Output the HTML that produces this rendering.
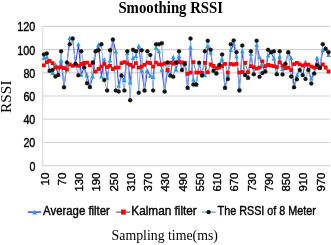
<!DOCTYPE html>
<html><head><meta charset="utf-8"><style>
html,body{margin:0;padding:0;background:#fff;width:331px;height:245px;overflow:hidden}
svg{display:block;will-change:transform}
</style></head><body>
<svg width="331" height="245" viewBox="0 0 331 245">
<rect width="331" height="245" fill="#fff"/>
<line x1="42.5" x2="329.8" y1="142.48" y2="142.48" stroke="#d2d2d2" stroke-width="1.1"/>
<line x1="42.5" x2="329.8" y1="119.27" y2="119.27" stroke="#d2d2d2" stroke-width="1.1"/>
<line x1="42.5" x2="329.8" y1="96.05" y2="96.05" stroke="#d2d2d2" stroke-width="1.1"/>
<line x1="42.5" x2="329.8" y1="72.84" y2="72.84" stroke="#d2d2d2" stroke-width="1.1"/>
<line x1="42.5" x2="329.8" y1="49.62" y2="49.62" stroke="#d2d2d2" stroke-width="1.1"/>
<line x1="42.5" x2="329.8" y1="26.40" y2="26.40" stroke="#d2d2d2" stroke-width="1.1"/>
<line x1="42.6" x2="42.6" y1="25.90" y2="165.70" stroke="#e2e2e2" stroke-width="1.6"/>
<line x1="42" x2="329.8" y1="165.70" y2="165.70" stroke="#cdcdcd" stroke-width="1.1"/>
<text x="35.3" y="170.70" text-anchor="end" font-family="Liberation Sans, sans-serif" font-size="12" textLength="5.9" lengthAdjust="spacingAndGlyphs" fill="#000" stroke="#000" stroke-width="0.38">0</text>
<text x="35.3" y="147.48" text-anchor="end" font-family="Liberation Sans, sans-serif" font-size="12" textLength="11.9" lengthAdjust="spacingAndGlyphs" fill="#000" stroke="#000" stroke-width="0.38">20</text>
<text x="35.3" y="124.27" text-anchor="end" font-family="Liberation Sans, sans-serif" font-size="12" textLength="11.9" lengthAdjust="spacingAndGlyphs" fill="#000" stroke="#000" stroke-width="0.38">40</text>
<text x="35.3" y="101.05" text-anchor="end" font-family="Liberation Sans, sans-serif" font-size="12" textLength="11.9" lengthAdjust="spacingAndGlyphs" fill="#000" stroke="#000" stroke-width="0.38">60</text>
<text x="35.3" y="77.84" text-anchor="end" font-family="Liberation Sans, sans-serif" font-size="12" textLength="11.9" lengthAdjust="spacingAndGlyphs" fill="#000" stroke="#000" stroke-width="0.38">80</text>
<text x="35.3" y="54.62" text-anchor="end" font-family="Liberation Sans, sans-serif" font-size="12" textLength="18.0" lengthAdjust="spacingAndGlyphs" fill="#000" stroke="#000" stroke-width="0.38">100</text>
<text x="35.3" y="31.40" text-anchor="end" font-family="Liberation Sans, sans-serif" font-size="12" textLength="18.0" lengthAdjust="spacingAndGlyphs" fill="#000" stroke="#000" stroke-width="0.38">120</text>
<text transform="translate(48.70,172.6) rotate(-90)" x="0" y="0" text-anchor="end" font-family="Liberation Sans, sans-serif" font-size="11.5" textLength="12.8" lengthAdjust="spacingAndGlyphs" fill="#000" stroke="#000" stroke-width="0.38">10</text>
<text transform="translate(65.95,172.6) rotate(-90)" x="0" y="0" text-anchor="end" font-family="Liberation Sans, sans-serif" font-size="11.5" textLength="12.8" lengthAdjust="spacingAndGlyphs" fill="#000" stroke="#000" stroke-width="0.38">70</text>
<text transform="translate(83.20,172.6) rotate(-90)" x="0" y="0" text-anchor="end" font-family="Liberation Sans, sans-serif" font-size="11.5" textLength="19.0" lengthAdjust="spacingAndGlyphs" fill="#000" stroke="#000" stroke-width="0.38">130</text>
<text transform="translate(100.45,172.6) rotate(-90)" x="0" y="0" text-anchor="end" font-family="Liberation Sans, sans-serif" font-size="11.5" textLength="19.0" lengthAdjust="spacingAndGlyphs" fill="#000" stroke="#000" stroke-width="0.38">190</text>
<text transform="translate(117.70,172.6) rotate(-90)" x="0" y="0" text-anchor="end" font-family="Liberation Sans, sans-serif" font-size="11.5" textLength="19.0" lengthAdjust="spacingAndGlyphs" fill="#000" stroke="#000" stroke-width="0.38">250</text>
<text transform="translate(134.95,172.6) rotate(-90)" x="0" y="0" text-anchor="end" font-family="Liberation Sans, sans-serif" font-size="11.5" textLength="19.0" lengthAdjust="spacingAndGlyphs" fill="#000" stroke="#000" stroke-width="0.38">310</text>
<text transform="translate(152.20,172.6) rotate(-90)" x="0" y="0" text-anchor="end" font-family="Liberation Sans, sans-serif" font-size="11.5" textLength="19.0" lengthAdjust="spacingAndGlyphs" fill="#000" stroke="#000" stroke-width="0.38">370</text>
<text transform="translate(169.45,172.6) rotate(-90)" x="0" y="0" text-anchor="end" font-family="Liberation Sans, sans-serif" font-size="11.5" textLength="19.0" lengthAdjust="spacingAndGlyphs" fill="#000" stroke="#000" stroke-width="0.38">430</text>
<text transform="translate(186.70,172.6) rotate(-90)" x="0" y="0" text-anchor="end" font-family="Liberation Sans, sans-serif" font-size="11.5" textLength="19.0" lengthAdjust="spacingAndGlyphs" fill="#000" stroke="#000" stroke-width="0.38">490</text>
<text transform="translate(203.95,172.6) rotate(-90)" x="0" y="0" text-anchor="end" font-family="Liberation Sans, sans-serif" font-size="11.5" textLength="19.0" lengthAdjust="spacingAndGlyphs" fill="#000" stroke="#000" stroke-width="0.38">550</text>
<text transform="translate(221.20,172.6) rotate(-90)" x="0" y="0" text-anchor="end" font-family="Liberation Sans, sans-serif" font-size="11.5" textLength="19.0" lengthAdjust="spacingAndGlyphs" fill="#000" stroke="#000" stroke-width="0.38">610</text>
<text transform="translate(238.45,172.6) rotate(-90)" x="0" y="0" text-anchor="end" font-family="Liberation Sans, sans-serif" font-size="11.5" textLength="19.0" lengthAdjust="spacingAndGlyphs" fill="#000" stroke="#000" stroke-width="0.38">670</text>
<text transform="translate(255.70,172.6) rotate(-90)" x="0" y="0" text-anchor="end" font-family="Liberation Sans, sans-serif" font-size="11.5" textLength="19.0" lengthAdjust="spacingAndGlyphs" fill="#000" stroke="#000" stroke-width="0.38">730</text>
<text transform="translate(272.95,172.6) rotate(-90)" x="0" y="0" text-anchor="end" font-family="Liberation Sans, sans-serif" font-size="11.5" textLength="19.0" lengthAdjust="spacingAndGlyphs" fill="#000" stroke="#000" stroke-width="0.38">790</text>
<text transform="translate(290.20,172.6) rotate(-90)" x="0" y="0" text-anchor="end" font-family="Liberation Sans, sans-serif" font-size="11.5" textLength="19.0" lengthAdjust="spacingAndGlyphs" fill="#000" stroke="#000" stroke-width="0.38">850</text>
<text transform="translate(307.45,172.6) rotate(-90)" x="0" y="0" text-anchor="end" font-family="Liberation Sans, sans-serif" font-size="11.5" textLength="19.0" lengthAdjust="spacingAndGlyphs" fill="#000" stroke="#000" stroke-width="0.38">910</text>
<text transform="translate(324.70,172.6) rotate(-90)" x="0" y="0" text-anchor="end" font-family="Liberation Sans, sans-serif" font-size="11.5" textLength="19.0" lengthAdjust="spacingAndGlyphs" fill="#000" stroke="#000" stroke-width="0.38">970</text>
<polyline points="43.90,58.30 46.77,57.30 49.65,70.76 52.52,73.10 55.40,64.50 58.27,75.06 61.15,60.90 64.03,87.15 66.90,65.00 69.78,38.10 72.65,38.55 75.53,63.78 78.40,44.50 81.28,75.00 84.15,67.27 87.03,75.50 89.90,87.03 92.78,76.70 95.65,51.34 98.53,44.90 101.40,76.70 104.28,59.60 107.15,78.00 110.03,60.70 112.90,39.60 115.78,51.70 118.65,85.90 121.53,75.41 124.40,80.40 127.28,53.50 130.15,82.80 133.03,58.30 135.90,56.30 138.78,46.20 141.65,70.80 144.53,90.52 147.40,70.80 150.28,76.00 153.15,77.30 156.03,47.60 158.90,51.50 161.78,70.00 164.65,91.56 167.53,69.90 170.40,75.41 173.28,57.20 176.15,69.90 179.03,56.50 181.90,69.94 184.78,64.01 187.65,87.84 190.53,47.60 193.40,79.80 196.28,84.59 199.15,62.73 202.03,75.41 204.90,75.50 207.78,46.50 210.65,52.60 213.53,70.76 216.40,73.43 219.28,64.94 222.15,59.60 225.03,87.84 227.90,74.90 230.78,50.10 233.65,44.30 236.53,56.80 239.40,88.10 242.28,51.50 245.15,75.06 248.03,77.85 250.90,54.00 253.78,74.24 256.65,45.20 259.52,57.30 262.40,66.20 265.27,71.45 268.15,55.80 271.02,52.16 273.90,58.70 276.77,74.24 279.65,56.60 282.52,69.20 285.40,63.78 288.27,52.16 291.15,58.40 294.02,87.15 296.90,75.50 299.77,69.94 302.65,75.06 305.52,62.00 308.40,69.94 311.27,78.80 314.15,73.43 317.02,58.00 319.90,67.62 322.77,50.50 325.65,48.67 328.52,55.20" fill="none" stroke="#4343ee" stroke-width="1.1" stroke-linejoin="round"/>
<polyline points="43.90,65.30 46.77,62.20 49.65,60.80 52.52,63.10 55.40,67.60 58.27,67.50 61.15,67.40 64.03,68.10 66.90,69.50 69.78,64.50 72.65,65.80 75.53,64.90 78.40,65.80 81.28,64.00 84.15,63.00 87.03,62.60 89.90,65.30 92.78,62.60 95.65,71.70 98.53,69.00 101.40,66.70 104.28,64.00 107.15,67.10 110.03,65.80 112.90,69.00 115.78,67.60 118.65,67.60 121.53,63.10 124.40,62.20 127.28,63.30 130.15,64.90 133.03,66.70 135.90,63.10 138.78,67.60 141.65,66.70 144.53,64.90 147.40,62.60 150.28,63.10 153.15,66.70 156.03,62.60 158.90,64.40 161.78,64.50 164.65,63.50 167.53,70.00 170.40,62.60 173.28,63.50 176.15,63.10 179.03,62.20 181.90,62.50 184.78,62.80 187.65,73.90 190.53,72.60 193.40,62.20 196.28,72.60 199.15,72.60 202.03,73.00 204.90,62.80 207.78,72.40 210.65,64.50 213.53,66.00 216.40,68.20 219.28,67.70 222.15,66.00 225.03,63.80 227.90,72.60 230.78,63.80 233.65,64.70 236.53,63.80 239.40,72.60 242.28,72.10 245.15,62.80 248.03,72.10 250.90,66.20 253.78,67.20 256.65,68.70 259.52,67.70 262.40,61.30 265.27,66.20 268.15,65.00 271.02,65.70 273.90,66.20 276.77,67.20 279.65,62.30 282.52,65.70 285.40,68.20 288.27,67.70 291.15,70.10 294.02,64.20 296.90,62.80 299.77,64.30 302.65,65.70 305.52,64.70 308.40,64.70 311.27,66.70 314.15,67.70 317.02,67.00 319.90,68.20 322.77,64.50 325.65,67.50 328.52,71.50" fill="none" stroke="#808080" stroke-width="1"/>
<polyline points="43.90,54.48 46.77,53.43 49.65,70.76 52.52,69.94 55.40,76.45 58.27,75.06 61.15,51.34 64.03,87.15 66.90,62.39 69.78,44.13 72.65,38.55 75.53,63.78 78.40,75.29 81.28,51.34 84.15,67.27 87.03,83.19 89.90,87.03 92.78,62.50 95.65,51.34 98.53,50.30 101.40,44.37 104.28,80.06 107.15,90.52 110.03,50.30 112.90,39.60 115.78,90.52 118.65,91.56 121.53,75.41 124.40,90.52 127.28,51.34 130.15,100.17 133.03,49.83 135.90,51.34 138.78,92.84 141.65,50.30 144.53,90.52 147.40,51.34 150.28,54.95 153.15,90.52 156.03,44.37 158.90,44.37 161.78,43.20 164.65,91.56 167.53,62.50 170.40,75.41 173.28,76.80 176.15,62.50 179.03,51.34 181.90,69.94 184.78,64.01 187.65,87.84 190.53,38.55 193.40,84.59 196.28,84.59 199.15,62.73 202.03,75.41 204.90,51.34 207.78,40.76 210.65,49.83 213.53,70.76 216.40,73.43 219.28,64.94 222.15,54.48 225.03,87.84 227.90,78.89 230.78,44.13 233.65,40.53 236.53,52.16 239.40,90.52 242.28,45.53 245.15,75.06 248.03,77.85 250.90,51.34 253.78,74.24 256.65,40.76 259.52,76.80 262.40,72.97 265.27,71.45 268.15,49.83 271.02,52.16 273.90,51.34 276.77,74.24 279.65,51.34 282.52,74.48 285.40,63.78 288.27,52.16 291.15,76.45 294.02,87.15 296.90,79.24 299.77,69.94 302.65,75.06 305.52,78.89 308.40,69.94 311.27,83.54 314.15,73.43 317.02,64.94 319.90,67.62 322.77,44.13 325.65,48.67 328.52,52.16" fill="none" stroke="#86aee6" stroke-width="1" stroke-linejoin="round"/>
<path d="M43.90 55.70L46.20 60.10L41.60 60.10ZM46.77 54.70L49.07 59.10L44.48 59.10ZM49.65 68.16L51.95 72.56L47.35 72.56ZM52.52 70.50L54.82 74.90L50.23 74.90ZM55.40 61.90L57.70 66.30L53.10 66.30ZM58.27 72.46L60.57 76.86L55.98 76.86ZM61.15 58.30L63.45 62.70L58.85 62.70ZM64.03 84.55L66.33 88.95L61.73 88.95ZM66.90 62.40L69.20 66.80L64.60 66.80ZM69.78 35.50L72.08 39.90L67.48 39.90ZM72.65 35.95L74.95 40.35L70.35 40.35ZM75.53 61.18L77.83 65.58L73.23 65.58ZM78.40 41.90L80.70 46.30L76.10 46.30ZM81.28 72.40L83.58 76.80L78.98 76.80ZM84.15 64.67L86.45 69.07L81.85 69.07ZM87.03 72.90L89.33 77.30L84.73 77.30ZM89.90 84.43L92.20 88.83L87.60 88.83ZM92.78 74.10L95.08 78.50L90.48 78.50ZM95.65 48.74L97.95 53.14L93.35 53.14ZM98.53 42.30L100.83 46.70L96.23 46.70ZM101.40 74.10L103.70 78.50L99.10 78.50ZM104.28 57.00L106.58 61.40L101.98 61.40ZM107.15 75.40L109.45 79.80L104.85 79.80ZM110.03 58.10L112.33 62.50L107.73 62.50ZM112.90 37.00L115.20 41.40L110.60 41.40ZM115.78 49.10L118.08 53.50L113.48 53.50ZM118.65 83.30L120.95 87.70L116.35 87.70ZM121.53 72.81L123.83 77.21L119.23 77.21ZM124.40 77.80L126.70 82.20L122.10 82.20ZM127.28 50.90L129.58 55.30L124.98 55.30ZM130.15 80.20L132.45 84.60L127.85 84.60ZM133.03 55.70L135.33 60.10L130.72 60.10ZM135.90 53.70L138.20 58.10L133.60 58.10ZM138.78 43.60L141.08 48.00L136.47 48.00ZM141.65 68.20L143.95 72.60L139.35 72.60ZM144.53 87.92L146.83 92.32L142.22 92.32ZM147.40 68.20L149.70 72.60L145.10 72.60ZM150.28 73.40L152.58 77.80L147.97 77.80ZM153.15 74.70L155.45 79.10L150.85 79.10ZM156.03 45.00L158.33 49.40L153.72 49.40ZM158.90 48.90L161.20 53.30L156.60 53.30ZM161.78 67.40L164.08 71.80L159.47 71.80ZM164.65 88.97L166.95 93.36L162.35 93.36ZM167.53 67.30L169.83 71.70L165.22 71.70ZM170.40 72.81L172.70 77.21L168.10 77.21ZM173.28 54.60L175.58 59.00L170.97 59.00ZM176.15 67.30L178.45 71.70L173.85 71.70ZM179.03 53.90L181.33 58.30L176.72 58.30ZM181.90 67.34L184.20 71.74L179.60 71.74ZM184.78 61.41L187.08 65.81L182.47 65.81ZM187.65 85.25L189.95 89.64L185.35 89.64ZM190.53 45.00L192.83 49.40L188.22 49.40ZM193.40 77.20L195.70 81.60L191.10 81.60ZM196.28 81.99L198.58 86.39L193.97 86.39ZM199.15 60.13L201.45 64.53L196.85 64.53ZM202.03 72.81L204.33 77.21L199.72 77.21ZM204.90 72.90L207.20 77.30L202.60 77.30ZM207.78 43.90L210.08 48.30L205.47 48.30ZM210.65 50.00L212.95 54.40L208.35 54.40ZM213.53 68.16L215.83 72.56L211.22 72.56ZM216.40 70.83L218.70 75.23L214.10 75.23ZM219.28 62.34L221.58 66.74L216.97 66.74ZM222.15 57.00L224.45 61.40L219.85 61.40ZM225.03 85.25L227.33 89.64L222.72 89.64ZM227.90 72.30L230.20 76.70L225.60 76.70ZM230.78 47.50L233.08 51.90L228.47 51.90ZM233.65 41.70L235.95 46.10L231.35 46.10ZM236.53 54.20L238.83 58.60L234.22 58.60ZM239.40 85.50L241.70 89.90L237.10 89.90ZM242.28 48.90L244.58 53.30L239.97 53.30ZM245.15 72.46L247.45 76.86L242.85 76.86ZM248.03 75.25L250.33 79.65L245.72 79.65ZM250.90 51.40L253.20 55.80L248.60 55.80ZM253.78 71.64L256.07 76.04L251.47 76.04ZM256.65 42.60L258.95 47.00L254.35 47.00ZM259.52 54.70L261.82 59.10L257.22 59.10ZM262.40 63.60L264.70 68.00L260.10 68.00ZM265.27 68.85L267.57 73.25L262.97 73.25ZM268.15 53.20L270.45 57.60L265.85 57.60ZM271.02 49.56L273.32 53.96L268.72 53.96ZM273.90 56.10L276.20 60.50L271.60 60.50ZM276.77 71.64L279.07 76.04L274.47 76.04ZM279.65 54.00L281.95 58.40L277.35 58.40ZM282.52 66.60L284.82 71.00L280.22 71.00ZM285.40 61.18L287.70 65.58L283.10 65.58ZM288.27 49.56L290.57 53.96L285.97 53.96ZM291.15 55.80L293.45 60.20L288.85 60.20ZM294.02 84.55L296.32 88.95L291.72 88.95ZM296.90 72.90L299.20 77.30L294.60 77.30ZM299.77 67.34L302.07 71.74L297.47 71.74ZM302.65 72.46L304.95 76.86L300.35 76.86ZM305.52 59.40L307.82 63.80L303.22 63.80ZM308.40 67.34L310.70 71.74L306.10 71.74ZM311.27 76.20L313.57 80.60L308.97 80.60ZM314.15 70.83L316.45 75.23L311.85 75.23ZM317.02 55.40L319.32 59.80L314.72 59.80ZM319.90 65.02L322.20 69.42L317.60 69.42ZM322.77 47.90L325.07 52.30L320.47 52.30ZM325.65 46.07L327.95 50.47L323.35 50.47ZM328.52 52.60L330.82 57.00L326.22 57.00Z" fill="#2f9fd0"/>
<path d="M42.00 63.40h3.8v3.8h-3.8ZM44.88 60.30h3.8v3.8h-3.8ZM47.75 58.90h3.8v3.8h-3.8ZM50.62 61.20h3.8v3.8h-3.8ZM53.50 65.70h3.8v3.8h-3.8ZM56.38 65.60h3.8v3.8h-3.8ZM59.25 65.50h3.8v3.8h-3.8ZM62.13 66.20h3.8v3.8h-3.8ZM65.00 67.60h3.8v3.8h-3.8ZM67.88 62.60h3.8v3.8h-3.8ZM70.75 63.90h3.8v3.8h-3.8ZM73.62 63.00h3.8v3.8h-3.8ZM76.50 63.90h3.8v3.8h-3.8ZM79.38 62.10h3.8v3.8h-3.8ZM82.25 61.10h3.8v3.8h-3.8ZM85.12 60.70h3.8v3.8h-3.8ZM88.00 63.40h3.8v3.8h-3.8ZM90.88 60.70h3.8v3.8h-3.8ZM93.75 69.80h3.8v3.8h-3.8ZM96.62 67.10h3.8v3.8h-3.8ZM99.50 64.80h3.8v3.8h-3.8ZM102.38 62.10h3.8v3.8h-3.8ZM105.25 65.20h3.8v3.8h-3.8ZM108.12 63.90h3.8v3.8h-3.8ZM111.00 67.10h3.8v3.8h-3.8ZM113.88 65.70h3.8v3.8h-3.8ZM116.75 65.70h3.8v3.8h-3.8ZM119.62 61.20h3.8v3.8h-3.8ZM122.50 60.30h3.8v3.8h-3.8ZM125.38 61.40h3.8v3.8h-3.8ZM128.25 63.00h3.8v3.8h-3.8ZM131.12 64.80h3.8v3.8h-3.8ZM134.00 61.20h3.8v3.8h-3.8ZM136.88 65.70h3.8v3.8h-3.8ZM139.75 64.80h3.8v3.8h-3.8ZM142.62 63.00h3.8v3.8h-3.8ZM145.50 60.70h3.8v3.8h-3.8ZM148.38 61.20h3.8v3.8h-3.8ZM151.25 64.80h3.8v3.8h-3.8ZM154.12 60.70h3.8v3.8h-3.8ZM157.00 62.50h3.8v3.8h-3.8ZM159.88 62.60h3.8v3.8h-3.8ZM162.75 61.60h3.8v3.8h-3.8ZM165.62 68.10h3.8v3.8h-3.8ZM168.50 60.70h3.8v3.8h-3.8ZM171.38 61.60h3.8v3.8h-3.8ZM174.25 61.20h3.8v3.8h-3.8ZM177.12 60.30h3.8v3.8h-3.8ZM180.00 60.60h3.8v3.8h-3.8ZM182.88 60.90h3.8v3.8h-3.8ZM185.75 72.00h3.8v3.8h-3.8ZM188.62 70.70h3.8v3.8h-3.8ZM191.50 60.30h3.8v3.8h-3.8ZM194.38 70.70h3.8v3.8h-3.8ZM197.25 70.70h3.8v3.8h-3.8ZM200.12 71.10h3.8v3.8h-3.8ZM203.00 60.90h3.8v3.8h-3.8ZM205.88 70.50h3.8v3.8h-3.8ZM208.75 62.60h3.8v3.8h-3.8ZM211.62 64.10h3.8v3.8h-3.8ZM214.50 66.30h3.8v3.8h-3.8ZM217.38 65.80h3.8v3.8h-3.8ZM220.25 64.10h3.8v3.8h-3.8ZM223.12 61.90h3.8v3.8h-3.8ZM226.00 70.70h3.8v3.8h-3.8ZM228.88 61.90h3.8v3.8h-3.8ZM231.75 62.80h3.8v3.8h-3.8ZM234.62 61.90h3.8v3.8h-3.8ZM237.50 70.70h3.8v3.8h-3.8ZM240.38 70.20h3.8v3.8h-3.8ZM243.25 60.90h3.8v3.8h-3.8ZM246.12 70.20h3.8v3.8h-3.8ZM249.00 64.30h3.8v3.8h-3.8ZM251.88 65.30h3.8v3.8h-3.8ZM254.75 66.80h3.8v3.8h-3.8ZM257.62 65.80h3.8v3.8h-3.8ZM260.50 59.40h3.8v3.8h-3.8ZM263.38 64.30h3.8v3.8h-3.8ZM266.25 63.10h3.8v3.8h-3.8ZM269.12 63.80h3.8v3.8h-3.8ZM272.00 64.30h3.8v3.8h-3.8ZM274.88 65.30h3.8v3.8h-3.8ZM277.75 60.40h3.8v3.8h-3.8ZM280.62 63.80h3.8v3.8h-3.8ZM283.50 66.30h3.8v3.8h-3.8ZM286.38 65.80h3.8v3.8h-3.8ZM289.25 68.20h3.8v3.8h-3.8ZM292.12 62.30h3.8v3.8h-3.8ZM295.00 60.90h3.8v3.8h-3.8ZM297.88 62.40h3.8v3.8h-3.8ZM300.75 63.80h3.8v3.8h-3.8ZM303.62 62.80h3.8v3.8h-3.8ZM306.50 62.80h3.8v3.8h-3.8ZM309.38 64.80h3.8v3.8h-3.8ZM312.25 65.80h3.8v3.8h-3.8ZM315.12 65.10h3.8v3.8h-3.8ZM318.00 66.30h3.8v3.8h-3.8ZM320.88 62.60h3.8v3.8h-3.8ZM323.75 65.60h3.8v3.8h-3.8ZM326.62 69.60h3.8v3.8h-3.8Z" fill="#ff0000"/>
<circle cx="43.90" cy="54.48" r="2.0" fill="#111" stroke="#2b2b10" stroke-width="0.35"/>
<circle cx="46.77" cy="53.43" r="2.0" fill="#111" stroke="#2b2b10" stroke-width="0.35"/>
<circle cx="49.65" cy="70.76" r="2.0" fill="#111" stroke="#2b2b10" stroke-width="0.35"/>
<circle cx="52.52" cy="69.94" r="2.0" fill="#111" stroke="#2b2b10" stroke-width="0.35"/>
<circle cx="55.40" cy="76.45" r="2.0" fill="#111" stroke="#2b2b10" stroke-width="0.35"/>
<circle cx="58.27" cy="75.06" r="2.0" fill="#111" stroke="#2b2b10" stroke-width="0.35"/>
<circle cx="61.15" cy="51.34" r="2.0" fill="#111" stroke="#2b2b10" stroke-width="0.35"/>
<circle cx="64.03" cy="87.15" r="2.0" fill="#111" stroke="#2b2b10" stroke-width="0.35"/>
<circle cx="66.90" cy="62.39" r="2.0" fill="#111" stroke="#2b2b10" stroke-width="0.35"/>
<circle cx="69.78" cy="44.13" r="2.0" fill="#111" stroke="#2b2b10" stroke-width="0.35"/>
<circle cx="72.65" cy="38.55" r="2.0" fill="#111" stroke="#2b2b10" stroke-width="0.35"/>
<circle cx="75.53" cy="63.78" r="2.0" fill="#111" stroke="#2b2b10" stroke-width="0.35"/>
<circle cx="78.40" cy="75.29" r="2.0" fill="#111" stroke="#2b2b10" stroke-width="0.35"/>
<circle cx="81.28" cy="51.34" r="2.0" fill="#111" stroke="#2b2b10" stroke-width="0.35"/>
<circle cx="84.15" cy="67.27" r="2.0" fill="#111" stroke="#2b2b10" stroke-width="0.35"/>
<circle cx="87.03" cy="83.19" r="2.0" fill="#111" stroke="#2b2b10" stroke-width="0.35"/>
<circle cx="89.90" cy="87.03" r="2.0" fill="#111" stroke="#2b2b10" stroke-width="0.35"/>
<circle cx="92.78" cy="62.50" r="2.0" fill="#111" stroke="#2b2b10" stroke-width="0.35"/>
<circle cx="95.65" cy="51.34" r="2.0" fill="#111" stroke="#2b2b10" stroke-width="0.35"/>
<circle cx="98.53" cy="50.30" r="2.0" fill="#111" stroke="#2b2b10" stroke-width="0.35"/>
<circle cx="101.40" cy="44.37" r="2.0" fill="#111" stroke="#2b2b10" stroke-width="0.35"/>
<circle cx="104.28" cy="80.06" r="2.0" fill="#111" stroke="#2b2b10" stroke-width="0.35"/>
<circle cx="107.15" cy="90.52" r="2.0" fill="#111" stroke="#2b2b10" stroke-width="0.35"/>
<circle cx="110.03" cy="50.30" r="2.0" fill="#111" stroke="#2b2b10" stroke-width="0.35"/>
<circle cx="112.90" cy="39.60" r="2.0" fill="#111" stroke="#2b2b10" stroke-width="0.35"/>
<circle cx="115.78" cy="90.52" r="2.0" fill="#111" stroke="#2b2b10" stroke-width="0.35"/>
<circle cx="118.65" cy="91.56" r="2.0" fill="#111" stroke="#2b2b10" stroke-width="0.35"/>
<circle cx="121.53" cy="75.41" r="2.0" fill="#111" stroke="#2b2b10" stroke-width="0.35"/>
<circle cx="124.40" cy="90.52" r="2.0" fill="#111" stroke="#2b2b10" stroke-width="0.35"/>
<circle cx="127.28" cy="51.34" r="2.0" fill="#111" stroke="#2b2b10" stroke-width="0.35"/>
<circle cx="130.15" cy="100.17" r="2.0" fill="#111" stroke="#2b2b10" stroke-width="0.35"/>
<circle cx="133.03" cy="49.83" r="2.0" fill="#111" stroke="#2b2b10" stroke-width="0.35"/>
<circle cx="135.90" cy="51.34" r="2.0" fill="#111" stroke="#2b2b10" stroke-width="0.35"/>
<circle cx="138.78" cy="92.84" r="2.0" fill="#111" stroke="#2b2b10" stroke-width="0.35"/>
<circle cx="141.65" cy="50.30" r="2.0" fill="#111" stroke="#2b2b10" stroke-width="0.35"/>
<circle cx="144.53" cy="90.52" r="2.0" fill="#111" stroke="#2b2b10" stroke-width="0.35"/>
<circle cx="147.40" cy="51.34" r="2.0" fill="#111" stroke="#2b2b10" stroke-width="0.35"/>
<circle cx="150.28" cy="54.95" r="2.0" fill="#111" stroke="#2b2b10" stroke-width="0.35"/>
<circle cx="153.15" cy="90.52" r="2.0" fill="#111" stroke="#2b2b10" stroke-width="0.35"/>
<circle cx="156.03" cy="44.37" r="2.0" fill="#111" stroke="#2b2b10" stroke-width="0.35"/>
<circle cx="158.90" cy="44.37" r="2.0" fill="#111" stroke="#2b2b10" stroke-width="0.35"/>
<circle cx="161.78" cy="43.20" r="2.0" fill="#111" stroke="#2b2b10" stroke-width="0.35"/>
<circle cx="164.65" cy="91.56" r="2.0" fill="#111" stroke="#2b2b10" stroke-width="0.35"/>
<circle cx="167.53" cy="62.50" r="2.0" fill="#111" stroke="#2b2b10" stroke-width="0.35"/>
<circle cx="170.40" cy="75.41" r="2.0" fill="#111" stroke="#2b2b10" stroke-width="0.35"/>
<circle cx="173.28" cy="76.80" r="2.0" fill="#111" stroke="#2b2b10" stroke-width="0.35"/>
<circle cx="176.15" cy="62.50" r="2.0" fill="#111" stroke="#2b2b10" stroke-width="0.35"/>
<circle cx="179.03" cy="51.34" r="2.0" fill="#111" stroke="#2b2b10" stroke-width="0.35"/>
<circle cx="181.90" cy="69.94" r="2.0" fill="#111" stroke="#2b2b10" stroke-width="0.35"/>
<circle cx="184.78" cy="64.01" r="2.0" fill="#111" stroke="#2b2b10" stroke-width="0.35"/>
<circle cx="187.65" cy="87.84" r="2.0" fill="#111" stroke="#2b2b10" stroke-width="0.35"/>
<circle cx="190.53" cy="38.55" r="2.0" fill="#111" stroke="#2b2b10" stroke-width="0.35"/>
<circle cx="193.40" cy="84.59" r="2.0" fill="#111" stroke="#2b2b10" stroke-width="0.35"/>
<circle cx="196.28" cy="84.59" r="2.0" fill="#111" stroke="#2b2b10" stroke-width="0.35"/>
<circle cx="199.15" cy="62.73" r="2.0" fill="#111" stroke="#2b2b10" stroke-width="0.35"/>
<circle cx="202.03" cy="75.41" r="2.0" fill="#111" stroke="#2b2b10" stroke-width="0.35"/>
<circle cx="204.90" cy="51.34" r="2.0" fill="#111" stroke="#2b2b10" stroke-width="0.35"/>
<circle cx="207.78" cy="40.76" r="2.0" fill="#111" stroke="#2b2b10" stroke-width="0.35"/>
<circle cx="210.65" cy="49.83" r="2.0" fill="#111" stroke="#2b2b10" stroke-width="0.35"/>
<circle cx="213.53" cy="70.76" r="2.0" fill="#111" stroke="#2b2b10" stroke-width="0.35"/>
<circle cx="216.40" cy="73.43" r="2.0" fill="#111" stroke="#2b2b10" stroke-width="0.35"/>
<circle cx="219.28" cy="64.94" r="2.0" fill="#111" stroke="#2b2b10" stroke-width="0.35"/>
<circle cx="222.15" cy="54.48" r="2.0" fill="#111" stroke="#2b2b10" stroke-width="0.35"/>
<circle cx="225.03" cy="87.84" r="2.0" fill="#111" stroke="#2b2b10" stroke-width="0.35"/>
<circle cx="227.90" cy="78.89" r="2.0" fill="#111" stroke="#2b2b10" stroke-width="0.35"/>
<circle cx="230.78" cy="44.13" r="2.0" fill="#111" stroke="#2b2b10" stroke-width="0.35"/>
<circle cx="233.65" cy="40.53" r="2.0" fill="#111" stroke="#2b2b10" stroke-width="0.35"/>
<circle cx="236.53" cy="52.16" r="2.0" fill="#111" stroke="#2b2b10" stroke-width="0.35"/>
<circle cx="239.40" cy="90.52" r="2.0" fill="#111" stroke="#2b2b10" stroke-width="0.35"/>
<circle cx="242.28" cy="45.53" r="2.0" fill="#111" stroke="#2b2b10" stroke-width="0.35"/>
<circle cx="245.15" cy="75.06" r="2.0" fill="#111" stroke="#2b2b10" stroke-width="0.35"/>
<circle cx="248.03" cy="77.85" r="2.0" fill="#111" stroke="#2b2b10" stroke-width="0.35"/>
<circle cx="250.90" cy="51.34" r="2.0" fill="#111" stroke="#2b2b10" stroke-width="0.35"/>
<circle cx="253.78" cy="74.24" r="2.0" fill="#111" stroke="#2b2b10" stroke-width="0.35"/>
<circle cx="256.65" cy="40.76" r="2.0" fill="#111" stroke="#2b2b10" stroke-width="0.35"/>
<circle cx="259.52" cy="76.80" r="2.0" fill="#111" stroke="#2b2b10" stroke-width="0.35"/>
<circle cx="262.40" cy="72.97" r="2.0" fill="#111" stroke="#2b2b10" stroke-width="0.35"/>
<circle cx="265.27" cy="71.45" r="2.0" fill="#111" stroke="#2b2b10" stroke-width="0.35"/>
<circle cx="268.15" cy="49.83" r="2.0" fill="#111" stroke="#2b2b10" stroke-width="0.35"/>
<circle cx="271.02" cy="52.16" r="2.0" fill="#111" stroke="#2b2b10" stroke-width="0.35"/>
<circle cx="273.90" cy="51.34" r="2.0" fill="#111" stroke="#2b2b10" stroke-width="0.35"/>
<circle cx="276.77" cy="74.24" r="2.0" fill="#111" stroke="#2b2b10" stroke-width="0.35"/>
<circle cx="279.65" cy="51.34" r="2.0" fill="#111" stroke="#2b2b10" stroke-width="0.35"/>
<circle cx="282.52" cy="74.48" r="2.0" fill="#111" stroke="#2b2b10" stroke-width="0.35"/>
<circle cx="285.40" cy="63.78" r="2.0" fill="#111" stroke="#2b2b10" stroke-width="0.35"/>
<circle cx="288.27" cy="52.16" r="2.0" fill="#111" stroke="#2b2b10" stroke-width="0.35"/>
<circle cx="291.15" cy="76.45" r="2.0" fill="#111" stroke="#2b2b10" stroke-width="0.35"/>
<circle cx="294.02" cy="87.15" r="2.0" fill="#111" stroke="#2b2b10" stroke-width="0.35"/>
<circle cx="296.90" cy="79.24" r="2.0" fill="#111" stroke="#2b2b10" stroke-width="0.35"/>
<circle cx="299.77" cy="69.94" r="2.0" fill="#111" stroke="#2b2b10" stroke-width="0.35"/>
<circle cx="302.65" cy="75.06" r="2.0" fill="#111" stroke="#2b2b10" stroke-width="0.35"/>
<circle cx="305.52" cy="78.89" r="2.0" fill="#111" stroke="#2b2b10" stroke-width="0.35"/>
<circle cx="308.40" cy="69.94" r="2.0" fill="#111" stroke="#2b2b10" stroke-width="0.35"/>
<circle cx="311.27" cy="83.54" r="2.0" fill="#111" stroke="#2b2b10" stroke-width="0.35"/>
<circle cx="314.15" cy="73.43" r="2.0" fill="#111" stroke="#2b2b10" stroke-width="0.35"/>
<circle cx="317.02" cy="64.94" r="2.0" fill="#111" stroke="#2b2b10" stroke-width="0.35"/>
<circle cx="319.90" cy="67.62" r="2.0" fill="#111" stroke="#2b2b10" stroke-width="0.35"/>
<circle cx="322.77" cy="44.13" r="2.0" fill="#111" stroke="#2b2b10" stroke-width="0.35"/>
<circle cx="325.65" cy="48.67" r="2.0" fill="#111" stroke="#2b2b10" stroke-width="0.35"/>
<circle cx="328.52" cy="52.16" r="2.0" fill="#111" stroke="#2b2b10" stroke-width="0.35"/>
<line x1="27.8" x2="41" y1="212.1" y2="212.1" stroke="#4343ee" stroke-width="1.5"/>
<path d="M34.7 209.7L37.0 214.5L32.400000000000006 214.5Z" fill="#2f9fd0"/>
<text x="43.1" y="215.3" textLength="66.8" font-family="Liberation Sans, sans-serif" font-size="12.2" lengthAdjust="spacingAndGlyphs" fill="#000" stroke="#000" stroke-width="0.38">Average filter</text>
<line x1="116.2" x2="130.3" y1="212.1" y2="212.1" stroke="#808080" stroke-width="1.5"/>
<rect x="121" y="209.6" width="4.8" height="5" fill="#ff0000"/>
<text x="131.3" y="215.3" textLength="65.5" font-family="Liberation Sans, sans-serif" font-size="12.2" lengthAdjust="spacingAndGlyphs" fill="#000" stroke="#000" stroke-width="0.38">Kalman filter</text>
<line x1="201.7" x2="215.6" y1="212.1" y2="212.1" stroke="#86aee6" stroke-width="1.5"/>
<circle cx="208.6" cy="212.1" r="2.2" fill="#111"/>
<text x="217.6" y="215.3" textLength="98.3" font-family="Liberation Sans, sans-serif" font-size="12.2" lengthAdjust="spacingAndGlyphs" fill="#000" stroke="#000" stroke-width="0.38">The RSSI of 8 Meter</text>
<text x="118.4" y="12.8" font-family="Liberation Serif, serif" font-weight="bold" font-size="17" textLength="104.6" lengthAdjust="spacingAndGlyphs" fill="#000">Smoothing RSSI</text>
<text x="111.6" y="240.3" font-family="Liberation Serif, serif" font-size="15.4" textLength="106.3" lengthAdjust="spacingAndGlyphs" fill="#000">Sampling time(ms)</text>
<text transform="translate(10.9,113.0) rotate(-90)" x="0" y="0" font-family="Liberation Serif, serif" font-size="15.2" textLength="32.6" lengthAdjust="spacingAndGlyphs" fill="#000">RSSI</text>
</svg>
</body></html>
